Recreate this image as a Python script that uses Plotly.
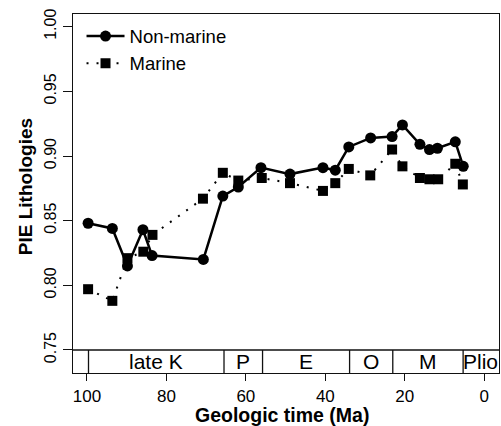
import plotly.graph_objects as go

# ---- data ----
nonmarine_age = [99.7, 93.6, 89.8, 85.9, 83.6, 70.7, 65.8, 61.9, 56.2, 48.9, 40.6,
                 37.5, 34.1, 28.6, 23.2, 20.6, 16.2, 13.8, 11.8, 7.3, 5.3]
nonmarine_pie = [0.848, 0.844, 0.815, 0.843, 0.823, 0.820, 0.869, 0.876, 0.891, 0.886, 0.891,
                 0.889, 0.907, 0.914, 0.915, 0.924, 0.909, 0.905, 0.906, 0.911, 0.892]
marine_age = [99.7, 93.6, 89.8, 85.8, 83.5, 70.8, 65.8, 61.9, 56.0, 48.9, 40.6,
              37.5, 34.1, 28.7, 23.2, 20.6, 16.2, 13.8, 11.6, 7.3, 5.4]
marine_pie = [0.797, 0.788, 0.821, 0.826, 0.839, 0.867, 0.887, 0.881, 0.883, 0.879, 0.873,
              0.879, 0.890, 0.885, 0.905, 0.892, 0.883, 0.882, 0.882, 0.894, 0.878]

period_bounds = [99.6, 65.5, 55.8, 33.9, 23.03, 5.33]
period_labels = ["late K", "P", "E", "O", "M", "Plio"]
period_label_pos = [82.5, 60.65, 44.85, 28.5, 14.2, 0.9]

x_ticks = [100, 80, 60, 40, 20, 0]
y_ticks = [0.75, 0.80, 0.85, 0.90, 0.95, 1.00]

X_RANGE = [103.5, -3.7]
Y_RANGE = [0.7322, 1.0098]
BAND_TOP = 0.75

FONT = "Liberation Sans, Arial, Helvetica, sans-serif"
INK = "#111111"

fig = go.Figure()
fig.add_trace(go.Scatter(
    x=nonmarine_age, y=nonmarine_pie, name="Non-marine", mode="lines+markers",
    line=dict(color="black", width=2.5),
    marker=dict(symbol="circle", size=11, color="black"),
))
fig.add_trace(go.Scatter(
    x=marine_age, y=marine_pie, name="Marine", mode="lines+markers",
    line=dict(color="black", width=2, dash="2px,8px"),
    marker=dict(symbol="square", size=10, color="black"),
))

# stratigraphic band
fig.add_shape(type="line", xref="paper", yref="y", x0=0, x1=1, y0=BAND_TOP, y1=BAND_TOP,
              line=dict(color=INK, width=1.3))
for b in period_bounds:
    fig.add_shape(type="line", xref="x", yref="y", x0=b, x1=b, y0=Y_RANGE[0], y1=BAND_TOP,
                  line=dict(color=INK, width=1.3))
for lab, pos in zip(period_labels, period_label_pos):
    fig.add_annotation(x=pos, y=(Y_RANGE[0] + BAND_TOP) / 2, xref="x", yref="y",
                       text=lab, showarrow=False,
                       font=dict(family=FONT, size=21, color="black"),
                       xanchor="center", yanchor="middle")

# axis titles
fig.add_annotation(x=-0.113, y=0.52, xref="paper", yref="paper", text="<b>PIE Lithologies</b>",
                   textangle=-90, showarrow=False, font=dict(family=FONT, size=19, color="black"),
                   xanchor="center", yanchor="middle")
fig.add_annotation(x=0.49, y=-0.118, xref="paper", yref="paper", text="<b>Geologic time (Ma)</b>",
                   showarrow=False, font=dict(family=FONT, size=19.5, color="black"),
                   xanchor="center", yanchor="middle")

fig.update_layout(
    width=501, height=426,
    margin=dict(l=73, r=2, t=14, b=53),
    paper_bgcolor="white", plot_bgcolor="white",
    font=dict(family=FONT, size=17, color="black"),
    showlegend=True,
    legend=dict(x=0.02, y=0.99, xanchor="left", yanchor="top",
                bgcolor="rgba(0,0,0,0)", font=dict(family=FONT, size=18.5, color="black"),
                itemwidth=38, tracegroupgap=0),
    xaxis=dict(range=X_RANGE, tickvals=x_ticks, ticktext=[str(v) for v in x_ticks],
               ticks="outside", ticklen=7, tickwidth=1.3, tickcolor=INK,
               showline=True, linecolor=INK, linewidth=1.3, mirror=True,
               showgrid=False, zeroline=False, tickfont=dict(size=17)),
    yaxis=dict(range=Y_RANGE, tickvals=y_ticks, ticktext=[f"{v:.2f}" for v in y_ticks],
               ticks="outside", ticklen=9, tickwidth=1.3, tickcolor=INK, tickangle=-90,
               showline=True, linecolor=INK, linewidth=1.3, mirror=True,
               showgrid=False, zeroline=False, tickfont=dict(size=16)),
)

fig.write_html("out.html")
